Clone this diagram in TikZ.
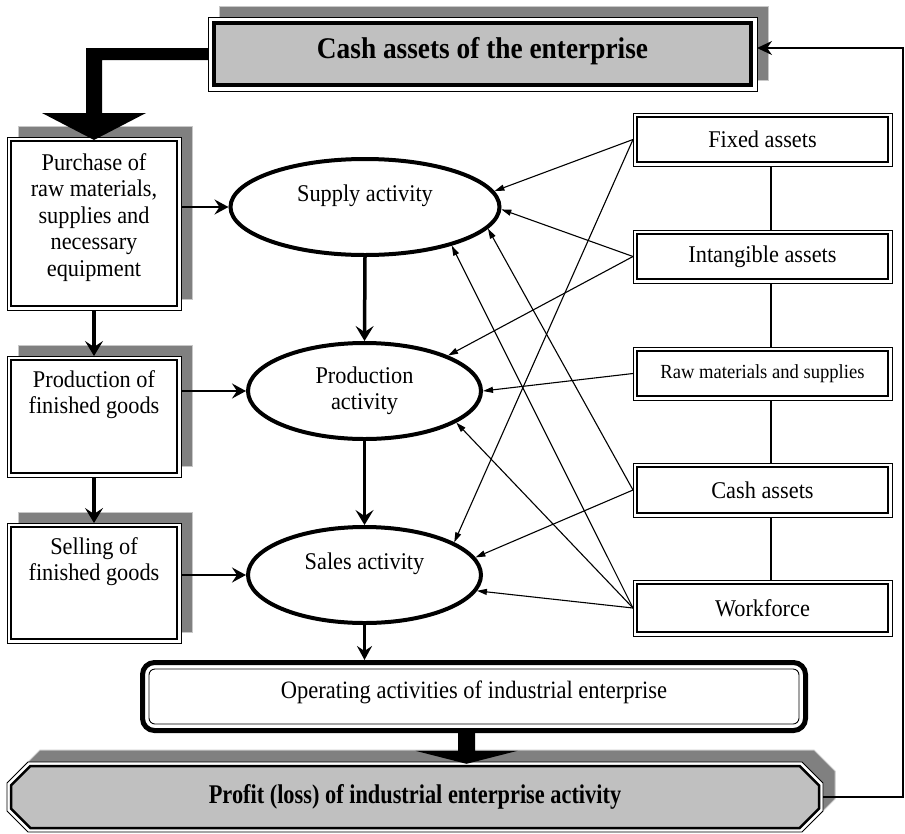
\documentclass[tikz,border=0pt]{standalone}
\usepackage{fontspec}
\setmainfont{Liberation Serif}[FakeStretch=0.93]
\usepackage{graphicx}
\usetikzlibrary{arrows.meta,shapes.geometric,calc}

\definecolor{fillgray}{HTML}{C0C0C0}
\definecolor{shadowgray}{HTML}{808080}
\definecolor{shadowedge}{HTML}{C8C8C8}

\pgfdeclarelayer{shadow}
\pgfdeclarelayer{frame}
\pgfsetlayers{shadow,frame,main}

% double frame: white outer area, inner fill and a heavier inner rule
\newcommand\dblframe[4]{%
  \begin{pgfonlayer}{frame}
    \fill[white] (#1.south west) rectangle (#1.north east);
    \fill[#4] ([shift={(#2,#2)}]#1.south west) rectangle ([shift={(-#2,-#2)}]#1.north east);
  \end{pgfonlayer}
  \draw[line width=#3] ([shift={(#2,#2)}]#1.south west) rectangle ([shift={(-#2,-#2)}]#1.north east);
}
% grey drop shadow, offset up and to the right
\newcommand\dropshadow[1]{%
  \begin{pgfonlayer}{shadow}
    \draw[shadowedge, fill=shadowgray, line width=1pt]
      ([shift={(11.5pt,11pt)}]#1.south west) rectangle ([shift={(11.5pt,11pt)}]#1.north east);
  \end{pgfonlayer}
}

\begin{document}
\begin{tikzpicture}[x=1pt, y=-1pt,
  font=\fontsize{24}{26.5}\selectfont,
  box/.style={draw, line width=0.9pt, inner sep=0pt, outer sep=0pt, align=center},
  leftbox/.style={box, minimum width=174pt},
  rightbox/.style={box, minimum width=259pt},
  act/.style={ellipse, draw, line width=4pt, inner sep=0pt, align=center},
  boxtext/.style={inner sep=0pt, align=center, anchor=north},
  flow/.style={-{Stealth[length=15pt,width=18pt,inset=6pt]}, line width=3.5pt},
  feed/.style={-{Stealth[length=14pt,width=15pt,inset=5pt]}, line width=2.2pt},
  back/.style={-{Stealth[length=15pt,width=14pt,inset=5pt]}, line width=2pt},
  res/.style={-{Triangle[length=10pt,width=6pt]}, line width=1.1pt},
  link/.style={line width=1.2pt}
]
\useasboundingbox (0,0) rectangle (905,833);

% ---------- head box ----------
\node[box, minimum width=549pt, minimum height=74pt, text height=20pt, text depth=12pt,
      font=\bfseries\fontsize{30}{32}\selectfont] (topbox) at (482.5,54)
      {\scalebox{0.98}[1]{Cash assets of the enterprise}};
\dblframe{topbox}{6pt}{4pt}{fillgray}
\dropshadow{topbox}

% ---------- left column ----------
\node[leftbox, minimum height=173pt] (purch) at (94,223.5) {};
\node[boxtext] (purchT) at ([yshift=-16pt]purch.north)
  {Purchase of\\raw materials,\\supplies and\\necessary\\equipment};
\node[leftbox, minimum height=121pt] (prodbox) at (94,416.5) {};
\node[boxtext] (prodT) at ([yshift=-14pt]prodbox.north) {Production of\\finished goods};
\node[leftbox, minimum height=120pt] (sellbox) at (94,583) {};
\node[boxtext] (sellT) at ([yshift=-14pt]sellbox.north) {Selling of\\finished goods};
\foreach \n in {purch,prodbox,sellbox}{\dblframe{\n}{4pt}{2pt}{white}\dropshadow{\n}}

% ---------- activities ----------
\node[act, minimum width=269pt, minimum height=96pt, text height=8pt, text depth=20pt]
  (sup) at (365,207) {Supply activity};
\node[act, minimum width=233pt, minimum height=96pt] (prod) at (364.5,391) {Production\\activity};
\node[act, minimum width=233pt, minimum height=96pt, text height=8pt, text depth=20pt]
  (sales) at (364.5,575) {Sales activity};

% ---------- resources ----------
\node[rightbox, minimum height=53pt] (fix) at (762.5,139.5) {Fixed assets};
\node[rightbox, minimum height=53pt] (intang) at (762.5,256.5) {Intangible assets};
\node[rightbox, minimum height=53pt, font=\fontsize{20}{22}\selectfont] (raw) at (762.5,373.5)
  {Raw materials and supplies};
\node[rightbox, minimum height=54pt] (cashr) at (762.5,490) {Cash assets};
\node[rightbox, minimum height=56pt] (work) at (762.5,608) {Workforce};
\foreach \n in {fix,intang,raw,cashr,work}{\dblframe{\n}{4pt}{2pt}{white}}

\coordinate (vx) at (771,0);
\draw[link] (fix.south -| vx) -- (intang.north -| vx);
\draw[link] (intang.south -| vx) -- (raw.north -| vx);
\draw[link] (raw.south -| vx) -- (cashr.north -| vx);
\draw[link] (cashr.south -| vx) -- (work.north -| vx);

% ---------- operating activities ----------
\node[draw, line width=5pt, rounded corners=12pt, minimum width=663pt, minimum height=68pt,
      inner sep=0pt, text height=17pt, text depth=14pt, font=\fontsize{25}{27}\selectfont]
  (op) at (474,696.5) {\scalebox{0.968}[1]{Operating activities of industrial enterprise}};
\draw[line width=0.9pt, rounded corners=6pt]
  ([shift={(9pt,9pt)}]op.south west) rectangle ([shift={(-9pt,-9pt)}]op.north east);

% ---------- profit box (chamfered) ----------
\node[inner sep=0pt, minimum width=816pt, minimum height=70pt,
      font=\bfseries\fontsize{27}{29}\selectfont] (profit) at (415,797)
  {\scalebox{0.89}[1]{Profit (loss) of industrial enterprise activity}};
\begin{pgfonlayer}{shadow}
  \draw[shadowedge, fill=shadowgray, line width=1pt]
    (40,750) -- (814,750) -- (835,771) -- (835,799) -- (814,820) -- (40,820) -- (19,799) -- (19,771) -- cycle;
\end{pgfonlayer}
\begin{pgfonlayer}{frame}
  \fill[white]
    (28,762) -- (802,762) -- (823,783) -- (823,811) -- (802,832) -- (28,832) -- (7,811) -- (7,783) -- cycle;
  \fill[fillgray]
    (30.3,766) -- (799.7,766) -- (819,785.3) -- (819,808.7) -- (799.7,828) -- (30.3,828) -- (11,808.7) -- (11,785.3) -- cycle;
\end{pgfonlayer}
\draw[line width=0.9pt]
  (28,762) -- (802,762) -- (823,783) -- (823,811) -- (802,832) -- (28,832) -- (7,811) -- (7,783) -- cycle;
\draw[line width=2.5pt]
  (30.3,766) -- (799.7,766) -- (819,785.3) -- (819,808.7) -- (799.7,828) -- (30.3,828) -- (11,808.7) -- (11,785.3) -- cycle;

% ---------- wide arrow from the head box ----------
\coordinate (ltip) at ([yshift=-3pt]purch.north);
\coordinate (lhi) at ([yshift=6pt]topbox.west);
\coordinate (llo) at ([yshift=-6pt]topbox.west);
\fill (lhi) -- ($(lhi -| ltip)+(-8pt,0pt)$) -- ($(ltip)+(-8pt,27pt)$) -- ($(ltip)+(-52pt,27pt)$)
  -- (ltip) -- ($(ltip)+(52pt,27pt)$) -- ($(ltip)+(8pt,27pt)$) -- ($(llo -| ltip)+(8pt,0pt)$)
  -- (llo) -- cycle;

% ---------- wide arrow into the profit box ----------
\coordinate (bx) at (466.5,0);
\coordinate (btip) at ($(bx |- profit.north)+(0pt,-2pt)$);
\coordinate (bst) at (bx |- op.south);
\fill ($(bst)+(-8.5pt,0pt)$) -- ($(btip)+(-8.5pt,13pt)$) -- ($(btip)+(-51pt,13pt)$) -- (btip)
  -- ($(btip)+(51pt,13pt)$) -- ($(btip)+(8.5pt,13pt)$) -- ($(bst)+(8.5pt,0pt)$) -- cycle;

% ---------- main flow ----------
\draw[flow] (purch.south) -- (prodbox.north);
\draw[flow] (prodbox.south) -- (sellbox.north);
\draw[flow] (sup.south) -- (prod.north);
\draw[flow] (prod.south) -- (sales.north);
\draw[feed] (sup.west -| purch.east) -- (sup.west);
\draw[feed] (prod.west -| prodbox.east) -- (prod.west);
\draw[feed] (sales.west -| sellbox.east) -- (sales.west);
\draw[feed] (sales.south) -- (sales.south |- op.north);

% ---------- return of profit to cash ----------
\coordinate (rx) at (903,0);
\coordinate (fbin) at ([yshift=6pt]topbox.east);
\draw[back] (profit.east) -| (fbin -| rx) -- (fbin);

% ---------- resources feeding the activities ----------
\draw[res] (fix.west) -- (sup.7);
\draw[res] (fix.west) -- (sales.20);
\draw[res] (intang.west) -- (sup.359);
\draw[res] (intang.west) -- (prod.23);
\draw[res] (raw.west) -- (prod.0);
\draw[res] (cashr.west) -- (sup.350);
\draw[res] (cashr.west) -- (sales.9);
\draw[res] (work.west) -- (sup.336);
\draw[res] (work.west) -- (prod.341);
\draw[res] (work.west) -- (sales.352);
\end{tikzpicture}
\end{document}
